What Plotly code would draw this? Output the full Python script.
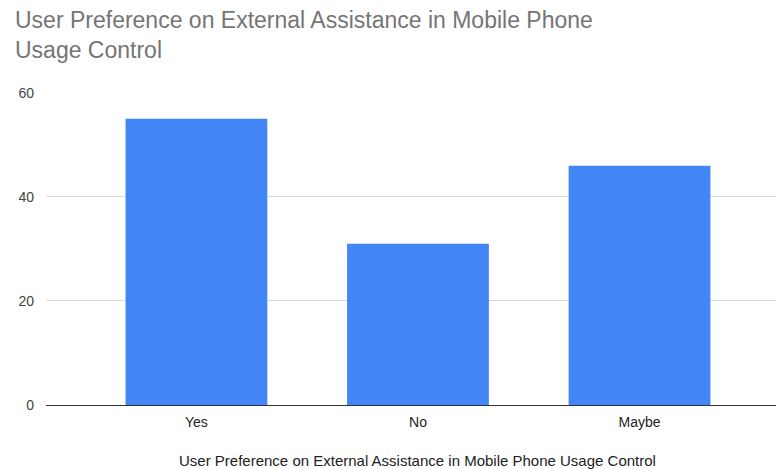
import plotly.graph_objects as go

categories = ["Yes", "No", "Maybe"]
values = [55, 31, 46]
y_ticks = [0, 20, 40, 60]
title_text = "User Preference on External Assistance in Mobile Phone<br>Usage Control"
x_title = "User Preference on External Assistance in Mobile Phone Usage Control"

W, H = 776, 469
ML, MR, MT, MB = 46, 0, 92, 64
PH = H - MT - MB


def py(p):
    """pixel row -> paper y"""
    return (H - MB - p) / PH


def px(p):
    return (p - ML) / (W - ML - MR)


FONT = "Liberation Sans, Arial, sans-serif"

fig = go.Figure()
fig.add_trace(go.Bar(
    x=categories, y=values,
    marker=dict(color="#4285F4", line=dict(width=0)),
    width=0.64,
))

fig.update_layout(
    width=W, height=H,
    margin=dict(l=ML, r=MR, t=MT, b=MB),
    paper_bgcolor="white", plot_bgcolor="white",
    showlegend=False,
    font=dict(family=FONT),
    xaxis=dict(
        range=[-0.679, 2.616],
        showgrid=False,
        showline=False,
        ticks="",
        tickfont=dict(size=14, color="#222222"),
        ticklabelstandoff=7,
    ),
    yaxis=dict(
        range=[0, 60.15],
        tickvals=y_ticks,
        showgrid=True, gridcolor="#d9d9d9", gridwidth=1,
        zeroline=True, zerolinecolor="#333333", zerolinewidth=1,
        showline=False, ticks="",
        tickfont=dict(size=14, color="#444444"),
        ticklabelstandoff=11,
    ),
    annotations=[
        dict(text=title_text, xref="paper", x=px(13), yref="paper", y=py(35),
             xanchor="left", yanchor="middle", align="left", showarrow=False,
             font=dict(size=23, color="#757575")),
        dict(text=x_title, xref="x", x=1, yref="paper", y=py(460),
             xanchor="center", yanchor="middle", showarrow=False,
             font=dict(size=15, color="#222222")),
    ],
)

fig.write_html("out.html", config={"displayModeBar": False},
               post_script="document.body.style.margin='0';")
